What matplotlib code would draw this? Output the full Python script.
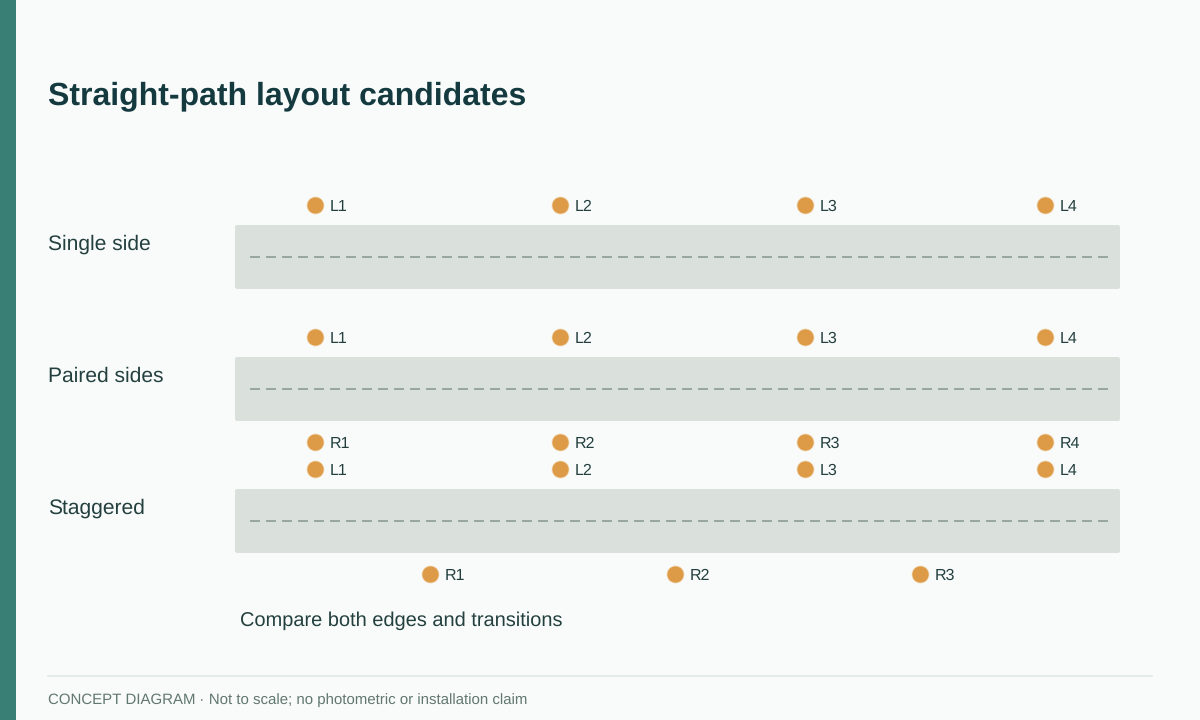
"""Straight-path layout candidates concept diagram."""
import matplotlib

matplotlib.use("Agg")
import matplotlib.pyplot as plt
from matplotlib.patches import FancyBboxPatch, Rectangle

plt.rcParams["font.family"] = ["Liberation Sans", "DejaVu Sans"]
plt.rcParams["text.hinting"] = "no_hinting"
plt.rcParams["text.hinting_factor"] = 1

BG = "#F8FBFA"
ACCENT = "#3A7F75"
ROAD = "#DAE0DC"
DASH = "#98A89F"
LIGHT = "#DD9A47"
DARK = "#143A3F"
TEXT = "#23403F"
MUTED = "#62776F"
RULE = "#E0E7E3"

TITLE = "Straight-path layout candidates"
NOTE = "Compare both edges and transitions"
FOOTER = "CONCEPT DIAGRAM · Not to scale; no photometric or installation claim"

row_names = ["Single side", "Paired sides", "Staggered"]
road_tops = [225, 357, 489]
left_x = [[315, 560, 805, 1045], [315, 560, 805, 1045], [315, 560, 805, 1045]]
right_x = [[], [315, 560, 805, 1045], [430, 675, 920]]


def px(size):
    """CSS pixels to points at dpi 100."""
    return size * 0.72


def draw_lights(ax, xs, y, prefix):
    """One row of numbered dots with labels to the right."""
    for i, x in enumerate(xs, start=1):
        ax.scatter([x], [y], s=150, color=LIGHT, edgecolors="#F3D9B5",
                   linewidths=0.5, zorder=3)
        ax.text(x + 15, y + 6, f"{prefix}{i}", fontsize=px(16.4), color=TEXT,
                va="baseline", ha="left", zorder=4)


fig = plt.figure(figsize=(12, 7.2), dpi=100, facecolor=BG)
ax = fig.add_axes([0, 0, 1, 1])
ax.set_xlim(0, 1200)
ax.set_ylim(720, 0)
ax.axis("off")

ax.add_patch(Rectangle((0, 0), 16, 720, color=ACCENT, lw=0))
ax.text(48, 104, TITLE, fontsize=px(32), fontweight="bold", color=DARK, va="baseline")

for name, top, lefts, rights in zip(row_names, road_tops, left_x, right_x):
    ax.text(48, top + 25, name, fontsize=px(21), color=TEXT, va="baseline")
    ax.add_patch(FancyBboxPatch((235, top), 885, 64,
                                boxstyle="round,pad=0,rounding_size=2",
                                fc=ROAD, ec="none", zorder=1))
    ax.plot([250, 1108], [top + 32, top + 32], color=DASH, lw=px(2),
            dashes=(5, 3), dash_capstyle="butt", zorder=2)
    draw_lights(ax, lefts, top - 20, "L")
    draw_lights(ax, rights, top + 85, "R")

ax.text(240, 626, NOTE, fontsize=px(20), color=TEXT, va="baseline")
ax.plot([48, 1152], [676, 676], color=RULE, lw=px(1.5))
ax.text(48, 704, FOOTER, fontsize=px(15), color=MUTED, va="baseline")

fig.savefig("out.png", dpi=100, facecolor=BG)
plt.close(fig)
